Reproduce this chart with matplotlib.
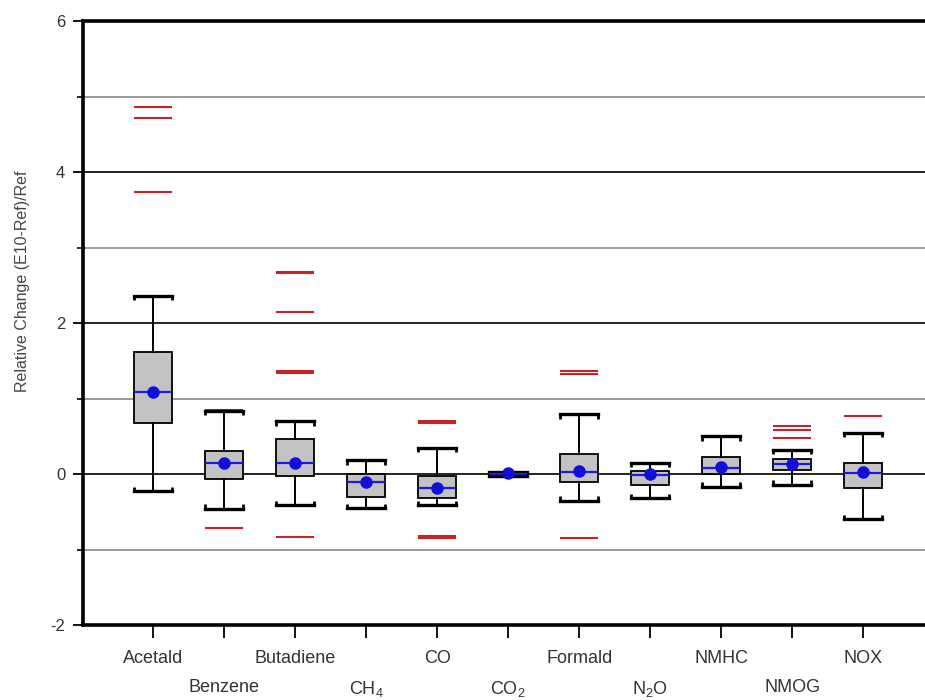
import matplotlib
matplotlib.use("Agg")
import matplotlib.pyplot as plt
from matplotlib.ticker import MultipleLocator

plt.rcParams['font.family'] = ['Liberation Sans', 'DejaVu Sans']
plt.rcParams['mathtext.fontset'] = 'custom'
plt.rcParams['mathtext.rm'] = 'Liberation Sans'
plt.rcParams['axes.unicode_minus'] = False

# Pollutants on the x axis
categories = ["Acetald", "Benzene", "Butadiene", "CH$_4$", "CO", "CO$_2$",
              "Formald", "N$_2$O", "NMHC", "NMOG", "NOX"]

# Box statistics of the relative change (E10-Ref)/Ref
whisker_hi = [2.36, 0.84, 0.70, 0.18, 0.35, 0.03, 0.79, 0.15, 0.50, 0.32, 0.55]
q3 = [1.62, 0.31, 0.46, 0.00, -0.02, 0.015, 0.27, 0.04, 0.22, 0.20, 0.15]
medians = [1.09, 0.15, 0.15, -0.10, -0.18, 0.00, 0.03, -0.01, 0.08, 0.13, 0.02]
q1 = [0.68, -0.06, -0.03, -0.30, -0.32, -0.015, -0.10, -0.14, 0.00, 0.05, -0.18]
whisker_lo = [-0.23, -0.46, -0.41, -0.45, -0.41, -0.03, -0.35, -0.32, -0.17, -0.14, -0.60]
means = [1.09, 0.15, 0.15, -0.10, -0.18, 0.01, 0.04, 0.00, 0.09, 0.14, 0.03]

# Values outside the whiskers
outliers = [
    [4.86, 4.72, 3.74],
    [0.85, -0.72],
    [2.68, 2.66, 2.14, 1.36, 1.34, -0.83],
    [],
    [0.70, 0.68, -0.82, -0.84],
    [-0.04],
    [1.37, 1.32, -0.84],
    [],
    [],
    [0.64, 0.58, 0.48],
    [0.77],
]

fig = plt.figure(figsize=(9.25, 7.0), dpi=100)
ax = fig.add_axes([0.0894, 0.107, 0.9106, 0.863])

positions = list(range(len(categories)))
width = 0.53

stats = []
for i in positions:
    stats.append(dict(med=medians[i], q1=q1[i], q3=q3[i],
                      whislo=whisker_lo[i], whishi=whisker_hi[i],
                      mean=means[i], fliers=[]))

ax.bxp(stats, positions=positions, widths=width, capwidths=width,
       patch_artist=True, showmeans=True, showfliers=False,
       boxprops=dict(facecolor="#c3c3c3", edgecolor="black", linewidth=1.3),
       medianprops=dict(color="#1a1ae0", linewidth=1.6),
       meanprops=dict(marker="o", markerfacecolor="#1010d8",
                      markeredgecolor="#1010d8", markersize=8),
       whiskerprops=dict(color="black", linewidth=1.4),
       capprops=dict(color="black", linewidth=2.4),
       zorder=3)

# Bracket ends on the whisker caps
tick_h = 0.06
for i in positions:
    for sgn in (-1, 1):
        x = i + sgn * width / 2
        ax.vlines(x, whisker_hi[i] - tick_h, whisker_hi[i], color="black",
                  linewidth=2.0, zorder=3)
        ax.vlines(x, whisker_lo[i], whisker_lo[i] + tick_h, color="black",
                  linewidth=2.0, zorder=3)

# Outlier markers drawn as short red bars
for i in positions:
    for v in outliers[i]:
        ax.hlines(v, i - width / 2, i + width / 2, color="#c42428",
                  linewidth=1.5, zorder=2.5)

# Horizontal reference lines
for v in (4, 2, 0):
    ax.axhline(v, color="black", linewidth=1.2, zorder=1)
for v in (5, 3, 1, -1):
    ax.axhline(v, color="#8a8a8a", linewidth=1.2, zorder=1)

ax.set_ylim(-2, 6)
ax.set_xlim(-0.99, 10.87)
ax.set_yticks([-2, 0, 2, 4, 6])
ax.yaxis.set_minor_locator(MultipleLocator(1))
ax.tick_params(axis="y", which="major", length=7, width=1.3, direction="out",
               labelsize=12, labelcolor="#333333", pad=5.5)
ax.tick_params(axis="y", which="minor", length=4, width=1.2, direction="out")

ax.set_xticks(positions)
ax.set_xticklabels([])
ax.tick_params(axis="x", which="major", length=9, width=1.3, direction="out")

# Two staggered rows of category labels
for i, name in enumerate(categories):
    off = -18 if i % 2 == 0 else -38.5
    ax.annotate(name, xy=(i, 0), xycoords=("data", "axes fraction"),
                xytext=(0, off), textcoords="offset points",
                ha="center", va="top", fontsize=13, color="#333333")

for side in ("left", "top", "bottom"):
    ax.spines[side].set_linewidth(2.6)
    ax.spines[side].set_color("black")
ax.spines["right"].set_visible(False)

ax.set_ylabel("Relative Change (E10-Ref)/Ref", fontsize=11.5, color="#444444")
ax.yaxis.set_label_coords(-0.062, 0.57)

fig.savefig("out.png", dpi=100)
